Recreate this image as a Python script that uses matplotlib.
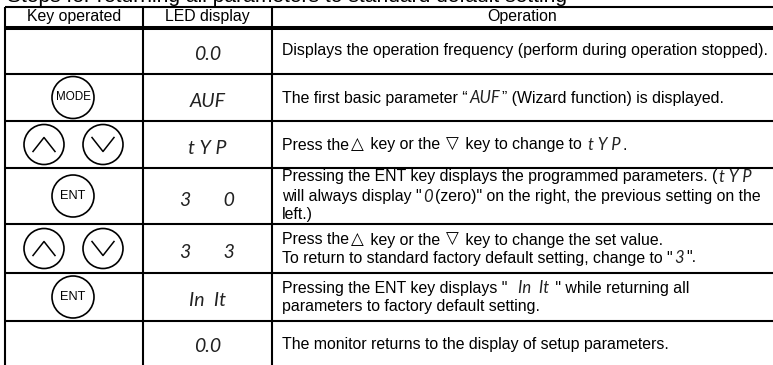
import matplotlib
matplotlib.use("Agg")
import matplotlib.pyplot as plt
from matplotlib.patches import Circle

W, H = 773, 365
FONT = "Liberation Sans"
SEG = "Lato"
TITLE = "Steps for returning all parameters to standard default setting"
HEADERS = ["Key operated", "LED display", "Operation"]
COL_X = [5, 143, 272, 773]
ROW_Y = [7, 28, 74, 121, 168, 224, 273, 321, 365]
LED = ["0.0", "AUF", "t Y P", "3       0", "3       3", "In  It", "0.0"]
KEYS = ["", "MODE", "arrows", "ENT", "arrows", "ENT", ""]
# each line of the Operation column: centre y, then runs of (text, kind)
OPERATION = [
    (51, [("Displays the operation frequency (perform during operation stopped).", "t")]),
    (98, [("The first basic parameter “", "t"), ("AUF", "s"), ("” (Wizard function) is displayed.", "t")]),
    (145, [("Press the", "t"), ("△", "g"), (" key or the", "t"), ("▽", "g"), (" key to change to", "t"), ("t Y P", "s"), (".", "t")]),
    (177, [("Pressing the ENT key displays the programmed parameters. (", "t"), ("t Y P", "s")]),
    (197, [("will always display \"", "t"), ("0", "s"), ("(zero)\" on the right, the previous setting on the", "t")]),
    (215, [("left.)", "t")]),
    (240, [("Press the", "t"), ("△", "g"), (" key or the", "t"), ("▽", "g"), (" key to change the set value.", "t")]),
    (258, [("To return to standard factory default setting, change to \"", "t"), ("3", "s"), ("\".", "t")]),
    (288, [("Pressing the ENT key displays \" ", "t"), ("In  It", "s"), (" \" while returning all", "t")]),
    (307, [("parameters to factory default setting.", "t")]),
    (344, [("The monitor returns to the display of setup parameters.", "t")]),
]

fig = plt.figure(figsize=(W / 100, H / 100), dpi=100)
ax = fig.add_axes([0, 0, 1, 1])
ax.set_xlim(0, W)
ax.set_ylim(H, 0)
ax.axis("off")

for i, y in enumerate(ROW_Y[:-1]):
    ax.plot(COL_X[::3], [y, y], color="k", lw=2.9 if i == 1 else 1.5, solid_capstyle="butt")
for x in COL_X[:3]:
    ax.plot([x, x], [ROW_Y[0], H], color="k", lw=1.5, solid_capstyle="butt")

ax.text(7, 2, TITLE, fontsize=15.1, family=FONT, va="baseline", ha="left")
centers = [(COL_X[i] + COL_X[i + 1]) / 2 for i in range(3)]
for c, h in zip(centers, HEADERS):
    ax.text(c, 17, h, fontsize=11.4, family=FONT, ha="center", va="center")


def button(x, y, label, size):
    ax.add_patch(Circle((x, y), 21, fill=False, ec="k", lw=1.2))
    ax.text(x, y, label, fontsize=size, family=FONT, ha="center", va="center")


def arrow_button(x, y, up):
    ax.add_patch(Circle((x, y), 20, fill=False, ec="k", lw=1.2))
    d = 1 if up else -1
    ax.plot([x - 11, x, x + 11], [y + 7 * d, y - 7 * d, y + 7 * d], color="k", lw=1.1)


for i, (k, led) in enumerate(zip(KEYS, LED)):
    yc = (ROW_Y[i + 1] + ROW_Y[i + 2]) / 2
    if k == "arrows":
        arrow_button(44, yc, True)
        arrow_button(103, yc, False)
    elif k:
        button(73, yc, k, 8.4 if k == "MODE" else 9.2)
    ax.text(centers[1], yc + 4, led, fontsize=14, family=SEG, style="italic", weight="normal", color="#222222",
            ha="center", va="center")

rend = fig.canvas.get_renderer()
for y, runs in OPERATION:
    x = 282
    for s, kind in runs:
        if kind == "t":
            t = ax.text(x, y, s, fontsize=11.4, family=FONT, va="center", ha="left")
        elif kind == "s":
            t = ax.text(x + 2, y, s, fontsize=12, family=SEG, style="italic", weight="normal", color="#222222", va="center", ha="left")
        else:
            t = ax.text(x + 2, y - 1, s, fontsize=12, family="DejaVu Sans", va="center", ha="left")
        # spaces at run ends are not measured, so add them back
        t_width = t.get_window_extent(rend).width
        lead = 4.4 * (len(s) - len(s.lstrip())) + 4.4 * (len(s) - len(s.rstrip())) if kind == "t" else 4
        x += t_width + lead

fig.savefig("out.png", dpi=100)
